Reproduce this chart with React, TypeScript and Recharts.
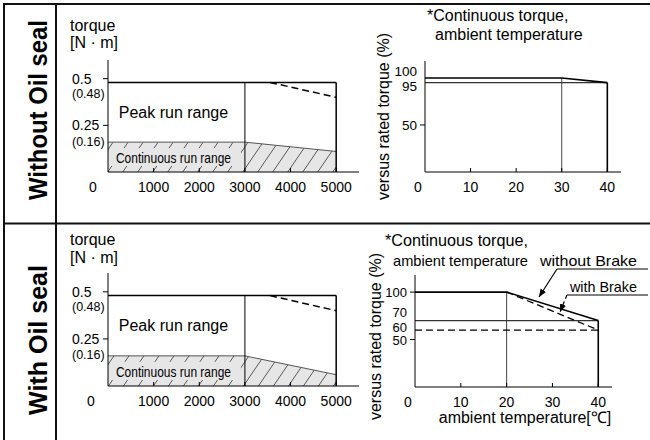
import React from 'react'
import { ComposedChart, Line, Area, XAxis, YAxis, ReferenceLine, ReferenceArea } from 'recharts'

const FONT = '"Liberation Sans", Arial, Helvetica, sans-serif'
const INK = '#000'

// speed / torque  (rpm -> N·m)
const speedTicks = [0, 1000, 2000, 3000, 4000, 5000]
const torqueTicks = [0.5, 0.48, 0.25, 0.16]
const torqueTickLabels = ['0.5', '(0.48)', '0.25', '(0.16)']

const peakWithoutSeal = [{ rpm: 0, torque: 0.48 }, { rpm: 5000, torque: 0.48 }]
const peakDropWithoutSeal = [{ rpm: 3550, torque: 0.48 }, { rpm: 5000, torque: 0.4 }]
const contWithoutSeal = [{ rpm: 0, torque: 0.16 }, { rpm: 3000, torque: 0.16 }, { rpm: 5000, torque: 0.11 }]

const peakWithSeal = [{ rpm: 0, torque: 0.48 }, { rpm: 5000, torque: 0.48 }]
const peakDropWithSeal = [{ rpm: 3550, torque: 0.48 }, { rpm: 5000, torque: 0.4 }]
const contWithSeal = [{ rpm: 0, torque: 0.16 }, { rpm: 3000, torque: 0.16 }, { rpm: 5000, torque: 0.06 }]

// ambient temperature derating  (°C -> % of rated torque)
const tempTicks = [0, 10, 20, 30, 40]
const pctTicksWithoutSeal = [100, 95, 50]
const pctTicksWithSeal = [100, 70, 60, 50]

const deratingWithoutSeal = [{ temp: 0, pct: 100 }, { temp: 30, pct: 100 }, { temp: 40, pct: 95 }]
const floorWithoutSeal = [{ temp: 0, pct: 95 }, { temp: 40, pct: 95 }]

const deratingWithSeal = [{ temp: 0, pct: 100 }, { temp: 20, pct: 100 }, { temp: 40, pct: 70 }]
const floorWithSeal = [{ temp: 0, pct: 70 }, { temp: 40, pct: 70 }]
const deratingWithSealBrake = [{ temp: 20, pct: 100 }, { temp: 40, pct: 60 }]
const floorWithSealBrake = [{ temp: 0, pct: 60 }, { temp: 40, pct: 60 }]

type Pt = { rpm: number; torque: number }
type TPt = { temp: number; pct: number }

const txt = { fontFamily: FONT, fill: INK }

function XTick({ x, y, payload, zeroShift }: any) {
  const v = payload.value
  return (
    <g>
      {v !== 0 && <line x1={x} x2={x} y1={y} y2={y - 4} stroke={INK} />}
      <text x={v === 0 ? x + zeroShift : x} y={y + 20} textAnchor="middle" fontSize={14} {...txt}>
        {v}
      </text>
    </g>
  )
}

function TorqueTick({ x, y, payload }: any) {
  const v = payload.value
  const label = torqueTickLabels[torqueTicks.indexOf(v)]
  const bracketed = label.startsWith('(')
  const nudge: Record<string, number> = { '0.5': 0, '0.48': 11, '0.25': 0, '0.16': -1 }
  return (
    <g>
      {!bracketed && <line x1={x - 5} x2={x} y1={y} y2={y} stroke={INK} />}
      <text x={x - 36} y={y + (nudge[String(v)] ?? 0)} dy="0.36em" textAnchor="start" fontSize={bracketed ? 12.5 : 14} {...txt}>
        {label}
      </text>
    </g>
  )
}

function PctTick({ x, y, payload, marked, nudge, size }: any) {
  const v = payload.value
  return (
    <g>
      {marked.includes(v) && <line x1={x - 5} x2={x} y1={y} y2={y} stroke={INK} />}
      <text x={x - 8} y={y + (nudge[v] ?? 0)} dy="0.36em" textAnchor="end" fontSize={size} {...txt}>
        {v}
      </text>
    </g>
  )
}

function SpeedTorque({ top, margin, peak, drop, cont, hatchId, zeroShift }: {
  top: number
  margin: { top: number; right: number; bottom: number; left: number }
  peak: Pt[]
  drop: Pt[]
  cont: Pt[]
  hatchId: string
  zeroShift: number
}) {
  const kneeRpm = cont[1].rpm
  const maxRpm = peak[peak.length - 1].rpm
  const peakTorque = peak[0].torque
  const contTorque = cont[0].torque

  const peakLabel = ({ viewBox }: any) => (
    <text x={viewBox.x + viewBox.width / 2 - 3} y={viewBox.y + viewBox.height / 2} dy="0.36em" textAnchor="middle" fontSize={16} {...txt}>
      Peak run range
    </text>
  )
  const contLabel = ({ viewBox }: any) => (
    <g>
      <rect x={viewBox.x + 2} y={viewBox.y + 6} width={viewBox.width - 6} height={viewBox.height - 12} fill="#e6e6e6" />
      <text x={viewBox.x + viewBox.width / 2 - 3} y={viewBox.y + viewBox.height / 2 + 1} dy="0.36em" textAnchor="middle" fontSize={15}
        textLength={115} lengthAdjust="spacingAndGlyphs" {...txt}>
        Continuous run range
      </text>
    </g>
  )

  return (
    <div style={{ position: 'absolute', left: 60, top }}>
      <ComposedChart width={300} height={215} margin={margin}>
        <defs>
          <pattern id={hatchId} patternUnits="userSpaceOnUse" width={15} height={22}>
            <rect width={15} height={22} fill="#e6e6e6" />
            <path d="M-15,22 L0,0 M0,22 L15,0 M15,22 L30,0" stroke="#333" strokeWidth={0.8} />
          </pattern>
        </defs>
        <XAxis dataKey="rpm" type="number" domain={[0, 5500]} ticks={speedTicks} interval={0} height={30}
          tickLine={false} tickSize={0} tickMargin={0} axisLine={{ stroke: INK }}
          tick={(p: any) => <XTick {...p} zeroShift={zeroShift} />} />
        <YAxis type="number" domain={[0, 0.6]} ticks={torqueTicks} interval={0} width={48}
          tickLine={false} tickSize={0} tickMargin={0} axisLine={{ stroke: INK }}
          tick={(p: any) => <TorqueTick {...p} />} />
        <Area data={cont} dataKey="torque" type="linear" stroke="#555" strokeWidth={1} fill={`url(#${hatchId})`} fillOpacity={1}
          dot={false} activeDot={false} isAnimationActive={false} />
        <Line data={peak} dataKey="torque" type="linear" stroke={INK} strokeWidth={1.5} dot={false} activeDot={false} isAnimationActive={false} />
        <Line data={drop} dataKey="torque" type="linear" stroke={INK} strokeWidth={1.5} strokeDasharray="7 4" dot={false} activeDot={false} isAnimationActive={false} />
        <ReferenceLine segment={[{ x: kneeRpm, y: 0 }, { x: kneeRpm, y: peakTorque }]} stroke={INK} strokeWidth={1} />
        <ReferenceLine segment={[{ x: maxRpm, y: 0 }, { x: maxRpm, y: peakTorque }]} stroke={INK} strokeWidth={1.5} />
        <ReferenceArea x1={0} x2={kneeRpm} y1={contTorque} y2={peakTorque} fill="none" stroke="none" label={peakLabel} />
        <ReferenceArea x1={0} x2={kneeRpm} y1={0} y2={contTorque} fill="none" stroke="none" label={contLabel} />
      </ComposedChart>
    </div>
  )
}

function Derating({ top, yWidth, margin, pctTicks, marked, nudge, tickSize, solid, solidFloor, dashed, dashedFloor }: {
  top: number
  yWidth: number
  margin: { top: number; right: number; bottom: number; left: number }
  pctTicks: number[]
  marked: number[]
  nudge: Record<number, number>
  tickSize: number
  solid: TPt[]
  solidFloor: TPt[]
  dashed?: TPt[]
  dashedFloor?: TPt[]
}) {
  const knee = solid[1]
  const end = solid[solid.length - 1]
  const common = { dataKey: 'pct', type: 'linear' as const, dot: false, activeDot: false, isAnimationActive: false }
  return (
    <div style={{ position: 'absolute', left: 340, top }}>
      <ComposedChart width={300} height={215} margin={margin}>
        <XAxis dataKey="temp" type="number" domain={[0, 43]} ticks={tempTicks} interval={0} height={30}
          tickLine={false} tickSize={0} tickMargin={0} axisLine={{ stroke: INK }}
          tick={(p: any) => <XTick {...p} zeroShift={-7} />} />
        <YAxis type="number" domain={[0, 118]} ticks={pctTicks} interval={0} width={yWidth}
          tickLine={false} tickSize={0} tickMargin={0} axisLine={{ stroke: INK }}
          tick={(p: any) => <PctTick {...p} marked={marked} nudge={nudge} size={tickSize} />} />
        <ReferenceLine segment={[{ x: knee.temp, y: 0 }, { x: knee.temp, y: knee.pct }]} stroke="#444" strokeWidth={1} />
        <Line data={solidFloor} {...common} stroke="#333" strokeWidth={1.2} />
        {dashedFloor && <Line data={dashedFloor} {...common} stroke={INK} strokeWidth={1.3} strokeDasharray="7 4" />}
        {dashed && <Line data={dashed} {...common} stroke={INK} strokeWidth={1.3} strokeDasharray="7 4" />}
        <Line data={solid} {...common} stroke={INK} strokeWidth={1.6} />
        <ReferenceLine segment={[{ x: end.temp, y: 0 }, { x: end.temp, y: end.pct }]} stroke={INK} strokeWidth={1.6} />
      </ComposedChart>
    </div>
  )
}

export default function App() {
  const t16 = { fontSize: 16, ...txt }
  return (
    <div style={{ position: 'absolute', left: 0, top: 0, width: 650, height: 440, background: '#fff', fontFamily: FONT }}>
      <SpeedTorque top={0} margin={{ top: 60, right: 1, bottom: 13, left: 0 }}
        peak={peakWithoutSeal} drop={peakDropWithoutSeal} cont={contWithoutSeal} hatchId="hatchA" zeroShift={-15} />
      <SpeedTorque top={215} margin={{ top: 58, right: 1, bottom: 14, left: 0 }}
        peak={peakWithSeal} drop={peakDropWithSeal} cont={contWithSeal} hatchId="hatchB" zeroShift={-17} />
      <Derating top={0} yWidth={85} margin={{ top: 61, right: 19, bottom: 13, left: 0 }}
        pctTicks={pctTicksWithoutSeal} marked={[50]} nudge={{ 100: -7, 95: 4 }} tickSize={13.5}
        solid={deratingWithoutSeal} solidFloor={floorWithoutSeal} />
      <Derating top={215} yWidth={75} margin={{ top: 60, right: 28, bottom: 13, left: 0 }}
        pctTicks={pctTicksWithSeal} marked={[100, 50]} nudge={{ 70: -8, 60: -3, 50: 1 }} tickSize={13}
        solid={deratingWithSeal} solidFloor={floorWithSeal} dashed={deratingWithSealBrake} dashedFloor={floorWithSealBrake} />

      <svg width={650} height={440} style={{ position: 'absolute', left: 0, top: 0, pointerEvents: 'none' }}>
        <defs>
          <marker id="arrowHead" viewBox="0 0 10 10" refX={10} refY={5} markerWidth={8} markerHeight={8}
            markerUnits="userSpaceOnUse" orient="auto">
            <path d="M0,1 L10,5 L0,9 z" fill={INK} />
          </marker>
        </defs>
        {/* table frame */}
        <line x1={3} x2={650} y1={4} y2={4} stroke="#111" strokeWidth={2} />
        <line x1={4} x2={4} y1={3} y2={440} stroke="#111" strokeWidth={2} />
        <line x1={56} x2={56} y1={3} y2={440} stroke="#111" strokeWidth={2} />
        <line x1={3} x2={650} y1={223.5} y2={223.5} stroke="#111" strokeWidth={2} />

        <text transform="translate(47,110) rotate(-90)" textAnchor="middle" fontSize={26} fontWeight="bold"
          textLength={180} lengthAdjust="spacingAndGlyphs" {...txt}>Without Oil seal</text>
        <text transform="translate(47,340) rotate(-90)" textAnchor="middle" fontSize={26} fontWeight="bold"
          textLength={150} lengthAdjust="spacingAndGlyphs" {...txt}>With Oil seal</text>

        <text x={70} y={31} {...t16}>torque</text>
        <text x={70} y={48} {...t16}>[N · m]</text>
        <text x={70} y={245} {...t16}>torque</text>
        <text x={70} y={263} {...t16}>[N · m]</text>

        <text x={427} y={21} {...t16}>*Continuous torque,</text>
        <text x={435} y={40} {...t16}>ambient temperature</text>
        <text transform="translate(389,116.5) rotate(-90)" textAnchor="middle" {...t16}>versus rated torque (%)</text>

        <text x={385} y={246} {...t16} textLength={143} lengthAdjust="spacingAndGlyphs">*Continuous torque,</text>
        <text x={393} y={266} fontSize={15} textLength={135} lengthAdjust="spacingAndGlyphs" {...txt}>ambient temperature</text>
        <text x={540} y={266} fontSize={15} textLength={97} lengthAdjust="spacingAndGlyphs" {...txt}>without Brake</text>
        <text x={570} y={292} fontSize={15} textLength={67} lengthAdjust="spacingAndGlyphs" {...txt}>with Brake</text>
        <text transform="translate(381,336.5) rotate(-90)" textAnchor="middle" {...t16}>versus rated torque (%)</text>
        <text x={525} y={423} textAnchor="middle" {...t16}>ambient temperature[℃]</text>

        <line x1={557} x2={648} y1={269} y2={269} stroke={INK} strokeWidth={1} />
        <line x1={557} y1={269} x2={539} y2={297} stroke={INK} strokeWidth={1.2} markerEnd="url(#arrowHead)" />
        <line x1={567} x2={648} y1={295} y2={295} stroke={INK} strokeWidth={1} />
        <line x1={567} y1={295} x2={560} y2={312} stroke={INK} strokeWidth={1.2} strokeDasharray="4 3" markerEnd="url(#arrowHead)" />
      </svg>
    </div>
  )
}
